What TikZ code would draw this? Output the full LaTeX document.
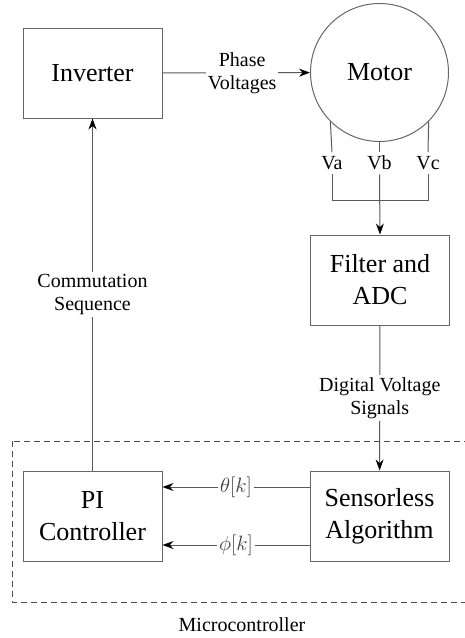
\documentclass[tikz,border=0pt]{standalone}
\usepackage{fontspec}
\setmainfont{Liberation Serif}
\newfontfamily\timesfont{Liberation Serif}
\usetikzlibrary{arrows.meta}
\tikzset{
  blk/.style = {draw=black!60, line width=1pt, minimum width=139pt, minimum height=90pt,
                align=center, font=\timesfont\fontsize{26}{32}\selectfont},
  lbl/.style = {fill=white, align=center, inner sep=2pt, font=\timesfont\fontsize{20}{23}\selectfont},
  wire/.style = {draw=black!65, line width=1pt},
}
\begin{document}
\begin{tikzpicture}[x=1pt, y=-1pt, > = {Stealth[length=11pt, width=8pt, color=black]}]
\useasboundingbox (0,0) rectangle (465,638);
% blocks
\node[blk] (inv) at (92.5,73) {Inverter};
\node[draw=black!60, line width=1pt, circle, minimum size=138pt, inner sep=0pt,
      font=\timesfont\fontsize{26}{32}\selectfont] (motor) at (379.5,72.5) {Motor};
\node[blk] (filt) at (380,280) {Filter and\\ADC};
\node[blk] (pi) at (92.5,516) {PI\\Controller};
\node[blk] (sens) at (379.5,516) {Sensorless\\Algorithm};
% phase taps
\node[lbl, inner sep=4pt] (va) at (332,163) {Va};
\node[lbl, inner sep=4pt] (vb) at (379.5,163) {Vb};
\node[lbl, inner sep=4pt] (vc) at (428,163) {Vc};
\coordinate (bus) at (379.5,200);
\draw[wire] (motor.-135) -- (va.north);
\draw[wire] (motor.south) -- (vb.north);
\draw[wire] (motor.-45) -- (vc.north);
\draw[wire] (va.south) -- (va.south |- bus) -- (vc.south |- bus) -- (vc.south);
\draw[wire, ->] (vb.south) -- (filt.north);
% signal paths
\draw[wire, ->] (inv) -- (motor) node[lbl, pos=0.54] {Phase\\Voltages};
\draw[wire, ->] (filt) -- (sens) node[lbl, midway] {Digital Voltage\\Signals};
\draw[wire, ->] (pi) -- (inv) node[lbl, midway] {Commutation\\Sequence};
\draw[wire, ->] (sens.west |- 0,487) -- (pi.east |- 0,487) node[lbl, midway, text=black!75] {$\theta[k]$};
\draw[wire, ->] (sens.west |- 0,545) -- (pi.east |- 0,545) node[lbl, midway, text=black!75] {$\phi[k]$};
% microcontroller boundary
\draw[black!70, line width=1pt, dash pattern=on 6pt off 4pt] (12,441) rectangle (480,602);
\node[font=\timesfont\fontsize{20}{23}\selectfont] (mcu) at (242,625) {Microcontroller};
\end{tikzpicture}
\end{document}
